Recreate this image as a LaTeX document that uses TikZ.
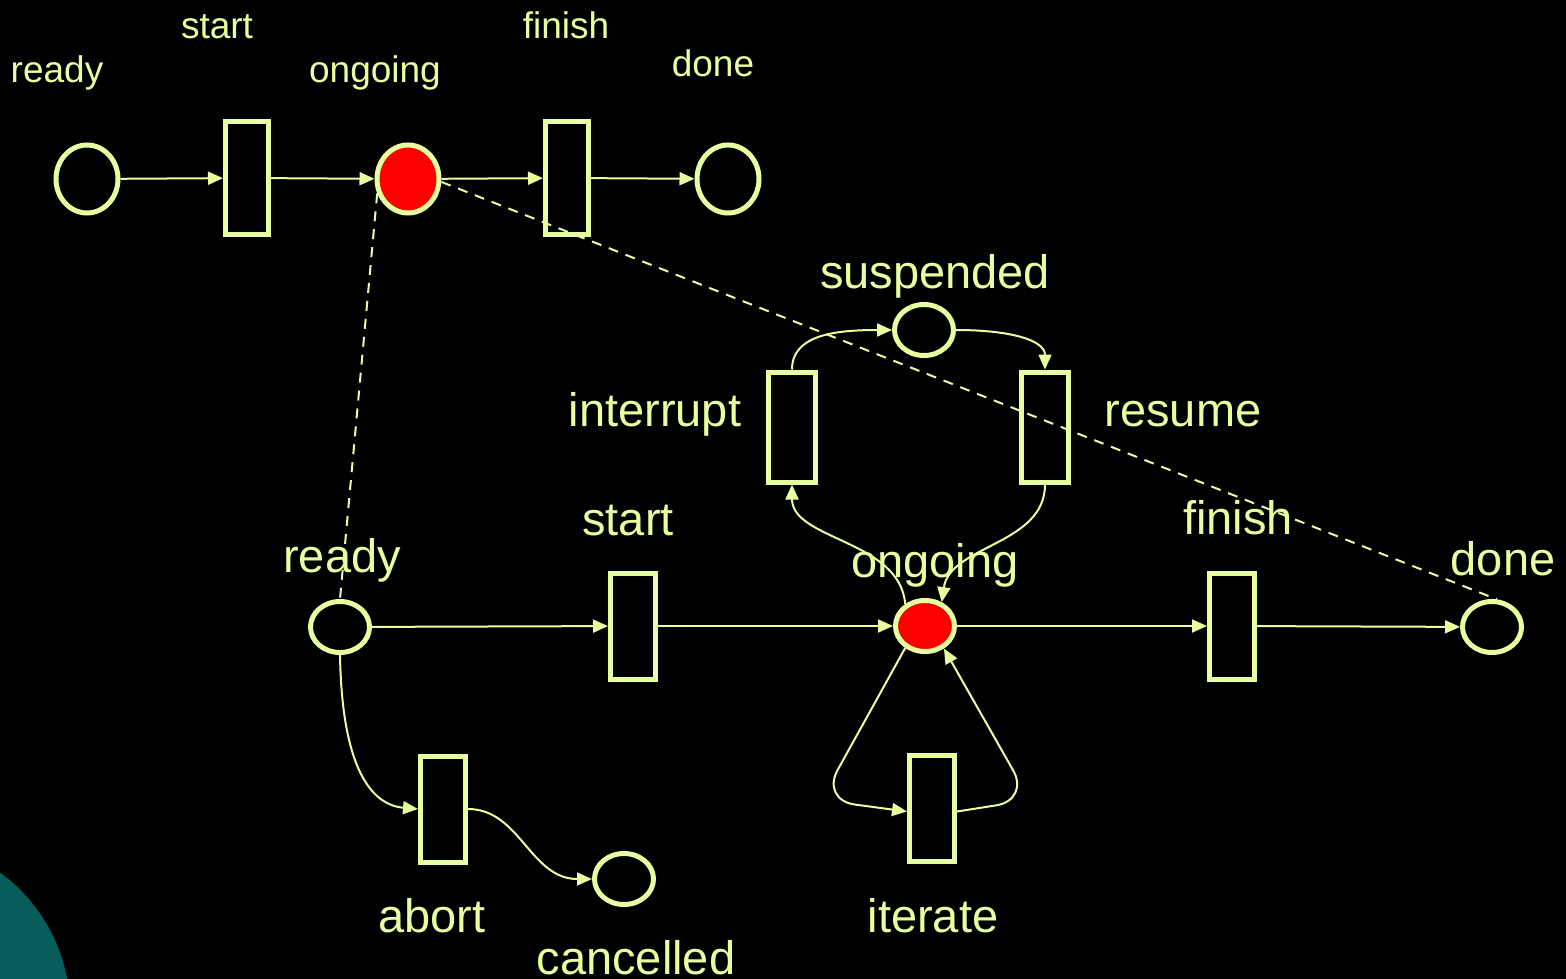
\documentclass[tikz,border=0pt]{standalone}
\usepackage{fontspec}
\setmainfont{Liberation Sans}
\usetikzlibrary{arrows.meta,shapes.geometric}
\definecolor{pn}{RGB}{232,255,160}
\definecolor{tealbg}{RGB}{8,92,90}
\begin{document}
\begin{tikzpicture}[x=1pt,y=-1pt,
  place/.style={ellipse, draw=pn, line width=5pt, inner sep=0pt, minimum width=62pt, minimum height=68pt},
  bplace/.style={ellipse, draw=pn, line width=5pt, inner sep=0pt, minimum width=59pt, minimum height=51pt},
  ttrans/.style={rectangle, draw=pn, line width=5pt, inner sep=0pt, minimum width=43pt, minimum height=113pt},
  btrans/.style={rectangle, draw=pn, line width=5pt, inner sep=0pt, minimum width=45pt, minimum height=106pt},
  itrans/.style={rectangle, draw=pn, line width=5pt, inner sep=0pt, minimum width=47pt, minimum height=110pt},
  arc/.style={draw=pn, line width=2pt, -{Triangle[length=15pt,width=13pt]}},
  dashline/.style={draw=pn, line width=2pt, dash pattern=on 10pt off 8pt},
  lbltop/.style={text=pn, font=\fontsize{37}{44}\selectfont, anchor=base, inner sep=0pt},
  lblbot/.style={text=pn, font=\fontsize{47}{56}\selectfont, anchor=base, inner sep=0pt}]
\fill[black] (0,0) rectangle (1566,979);
\useasboundingbox (0,0) rectangle (1566,979);
\begin{scope}
  \clip (0,0) rectangle (1566,979);
  \fill[tealbg] (-100,1010) circle[radius=170pt];
\end{scope}

% labels (top net)
\node[lbltop] (lr1) at (57,83) {ready};
\node[lbltop] (ls1) at (217,39) {start};
\node[lbltop] (lo1) at (375,83) {ongoing};
\node[lbltop] (lf1) at (566,39) {finish};
\node[lbltop] (ld1) at (713,77) {done};

% labels (bottom net)
\node[lblbot] (lr2) at (342,572) {ready};
\node[lblbot] (ls2) at (628,535) {start};
\node[lblbot] (lo2) at (935,577) {ongoing};
\node[lblbot] (lf2) at (1238,534) {finish};
\node[lblbot] (ld2) at (1503,575) {done};
\node[lblbot] (lsp) at (935,288) {suspended};
\node[lblbot] (lir) at (655,426) {interrupt};
\node[lblbot] (lrs) at (1183,426) {resume};
\node[lblbot] (lab) at (432,932) {abort};
\node[lblbot] (lcn) at (636,974) {cancelled};
\node[lblbot] (lit) at (933,932) {iterate};

% top net
\node[place] (r1) at (87,179) {};
\node[ttrans] (s1) at (247,178) {};
\node[place, fill=red] (o1) at (408,179) {};
\node[ttrans] (f1) at (567,178) {};
\node[place] (d1) at (728,179) {};

% bottom net
\node[bplace] (r2) at (340,627) {};
\node[btrans] (s2) at (633,626) {};
\node[bplace, fill=red] (o2) at (925,626) {};
\node[btrans] (f2) at (1232,626) {};
\node[bplace] (d2) at (1492,627) {};
\node[bplace] (sp) at (924,330) {};
\node[itrans] (ir) at (792,427) {};
\node[itrans] (rs) at (1045,427) {};
\node[btrans] (it) at (932,808) {};
\node[btrans] (ab) at (443,809) {};
\node[bplace] (cn) at (624,879) {};

% top arcs
\draw[arc] (r1) -- (s1);
\draw[arc] (s1) -- (o1);
\draw[arc] (o1) -- (f1);
\draw[arc] (f1) -- (d1);

% bottom arcs
\draw[arc] (r2) -- (s2);
\draw[arc] (s2) -- (o2);
\draw[arc] (o2) -- (f2);
\draw[arc] (f2) -- (d2);
\draw[arc] (r2.south) .. controls (342,770) and (372,805) .. (ab.west);
\draw[arc] (ab.east) .. controls (520,809) and (530,879) .. (cn.west);
\draw[arc] (ir.north) .. controls (792,335) and (835,330) .. (sp.west);
\draw[arc] (sp.east) .. controls (1010,330) and (1045,340) .. (rs.north);
\draw[arc] (o2.132) .. controls (900,540) and (792,540) .. (ir.south);
\draw[arc] (rs.south) .. controls (1045,545) and (950,545) .. (o2.55);
\draw[arc, rounded corners=34pt] (o2.228) -- (821,800) -- (it.188);
\draw[arc, rounded corners=34pt] (it.-8) -- (1030,800) -- (o2.310);

% dashed refinement links
\draw[dashline] (o1.205) -- (r2.north);
\draw[dashline] (o1.-5) -- (d2.80);
\end{tikzpicture}
\end{document}
